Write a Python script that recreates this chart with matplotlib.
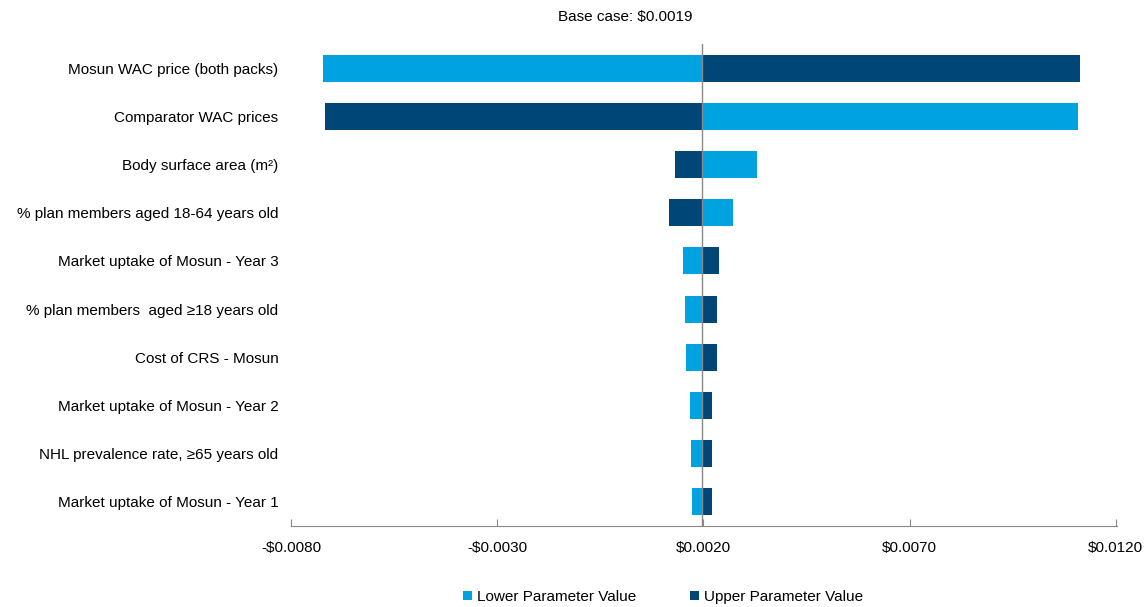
import matplotlib.pyplot as plt
from matplotlib.ticker import FuncFormatter

plt.rcParams['font.family'] = ['Liberation Sans', 'DejaVu Sans']

# parameters, top to bottom
params = [
    "Mosun WAC price (both packs)",
    "Comparator WAC prices",
    "Body surface area (m²)",
    "% plan members aged 18-64 years old",
    "Market uptake of Mosun - Year 3",
    "% plan members  aged ≥18 years old",
    "Cost of CRS - Mosun",
    "Market uptake of Mosun - Year 2",
    "NHL prevalence rate, ≥65 years old",
    "Market uptake of Mosun - Year 1",
]
base_case = 0.00196
lower_vals = [-0.00722, 0.01108, 0.00329, 0.00273, 0.00151, 0.00156, 0.00159, 0.00168, 0.00171, 0.00173]
upper_vals = [0.01113, -0.00717, 0.00130, 0.00117, 0.00239, 0.00234, 0.00232, 0.00222, 0.00220, 0.00220]
x_ticks = [-0.008, -0.003, 0.002, 0.007, 0.012]

light = "#00A3E0"
dark = "#004676"

fig = plt.figure(figsize=(11.48, 6.07), dpi=100)
ax = fig.add_axes([291 / 1148, 0.1334, 826 / 1148, 0.7941])

y = list(range(len(params)))
h = 0.56
ax.barh(y, [v - base_case for v in lower_vals], left=base_case, height=h,
        color=light, label="Lower Parameter Value")
ax.barh(y, [v - base_case for v in upper_vals], left=base_case, height=h,
        color=dark, label="Upper Parameter Value")
ax.axvline(base_case, color="#888888", lw=1, zorder=3)

ax.set_ylim(len(params) - 0.5, -0.5)
ax.set_xlim(-0.008, 0.01203)
ax.set_xticks(x_ticks)
ax.xaxis.set_major_formatter(FuncFormatter(lambda v, p: ("-$" if v < 0 else "$") + f"{abs(v):.4f}"))
ax.set_yticks(y)
ax.set_yticklabels(params, fontsize=11)
ax.tick_params(axis="y", length=0, pad=9)
ax.tick_params(axis="x", direction="in", length=5, color="#888888", labelsize=11, pad=11)

for s in ["top", "right", "left"]:
    ax.spines[s].set_visible(False)
ax.spines["bottom"].set_color("#888888")

fig.text(625 / 1148, 1 - 17 / 607, "Base case: $0.0019", ha="center", va="center", fontsize=11)

fig.legend(loc="center", bbox_to_anchor=(663 / 1148, 1 - 597 / 607), ncol=2, frameon=False,
           fontsize=11, handlelength=0.6, handleheight=0.6, handletextpad=0.3, columnspacing=3.5)

fig.savefig("out.png", dpi=100)
